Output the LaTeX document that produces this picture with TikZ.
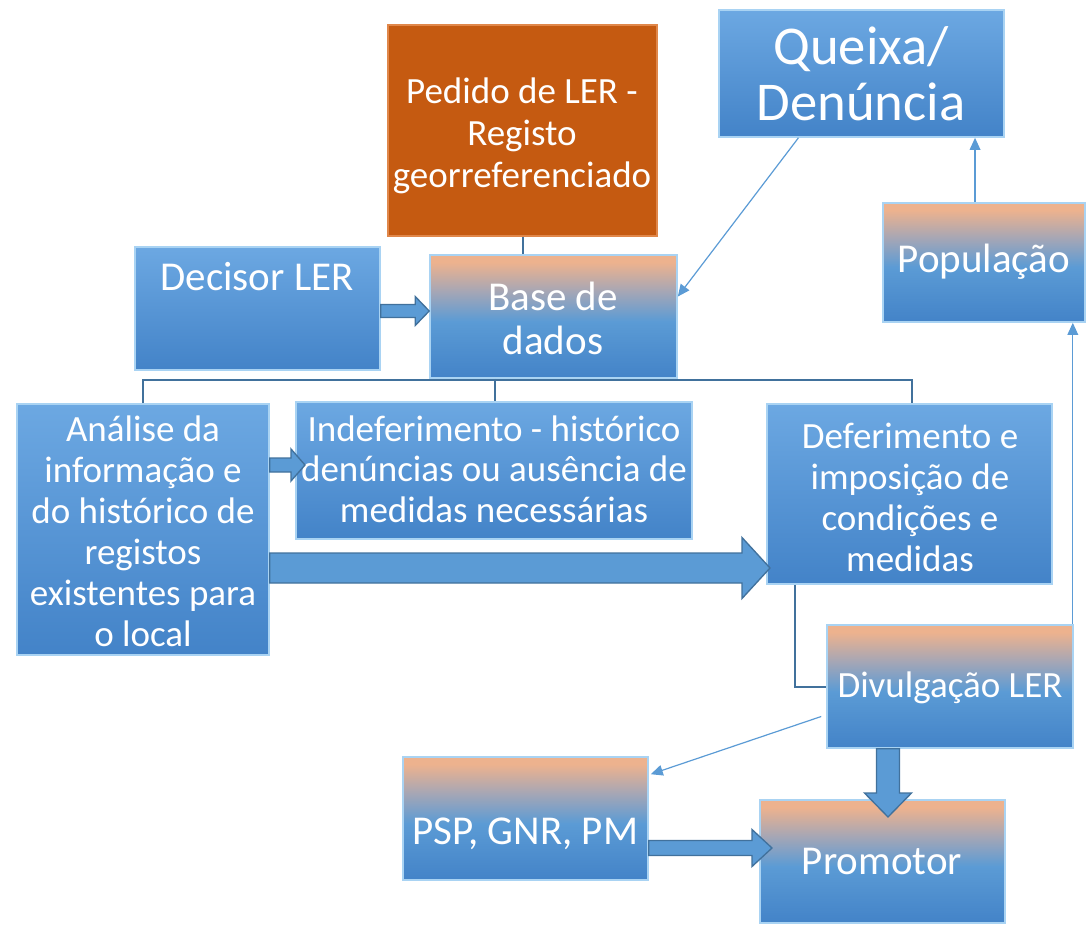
\documentclass[tikz,border=0pt]{standalone}
\usepackage{fontspec}
\setmainfont{Carlito}
\usetikzlibrary{calc,fit,arrows.meta}
\definecolor{bluetop}{HTML}{6CA8E2}
\definecolor{bluebot}{HTML}{4383C8}
\definecolor{bluemid}{HTML}{5B9BD5}
\definecolor{peach}{HTML}{EDB28E}
\definecolor{grayp}{HTML}{A4A6B6}
\definecolor{edgeblue}{HTML}{41719C}
\definecolor{orangefill}{HTML}{C55A11}
\definecolor{orangeedge}{HTML}{E0874A}
\definecolor{bevel}{HTML}{A9D3F3}
\pgfdeclareverticalshading{peachblue}{100bp}{color(0bp)=(bluebot); color(25bp)=(bluebot); color(48bp)=(bluemid); color(60bp)=(grayp); color(72bp)=(peach); color(100bp)=(peach)}
\newcommand\rarrow[5]{\draw[blockarr] ($(#1)+(0,#3)$) -- ($(#2)+(-#5,#3)$) -- ($(#2)+(-#5,#4)$) -- (#2) -- ($(#2)+(-#5,-#4)$) -- ($(#2)+(-#5,-#3)$) -- ($(#1)+(0,-#3)$) -- cycle;}
\newcommand\darrow[5]{\draw[blockarr] ($(#1)+(#3,0)$) -- ($(#2)+(#3,-#5)$) -- ($(#2)+(#4,-#5)$) -- (#2) -- ($(#2)+(-#4,-#5)$) -- ($(#2)+(-#3,-#5)$) -- ($(#1)+(-#3,0)$) -- cycle;}
\begin{document}
\begin{tikzpicture}[x=0.75pt,y=-0.75pt,
  bluebox/.style={rectangle, inner sep=0pt, top color=bluetop, bottom color=bluebot, draw=bevel, line width=1.2pt},
  peachbox/.style={rectangle, inner sep=0pt, shading=peachblue, draw=bevel, line width=1.2pt},
  orangebox/.style={rectangle, inner sep=0pt, fill=orangefill, draw=orangeedge, line width=1.2pt},
  fs/.style={font=\fontsize{27.75}{30.75}\selectfont},
  fm/.style={font=\fontsize{30.75}{33}\selectfont},
  fl/.style={font=\fontsize{41}{42}\selectfont},
  txt/.style={text=white, align=center, inner sep=0pt},
  thinarr/.style={draw=bluemid, line width=0.9pt, -{Triangle[length=9pt,width=8pt]}},
  elbow/.style={draw=edgeblue, line width=1.5pt},
  blockarr/.style={fill=bluemid, draw=edgeblue, line width=1pt, line join=miter}]
\useasboundingbox (0,0) rectangle (1086,925);

% boxes
\node[orangebox, fit={(388,25) (657,236)}] (ped) {};
\node[txt, font=\fontsize{27.75}{31.5}\selectfont] (pedt) at (522,136) {Pedido de LER -\\Registo\\georreferenciado};
\node[bluebox, fit={(719,10) (1004,137)}] (que) {};
\node[txt, fl] (quet) at (861,74) {Queixa/\\Den\'uncia};
\node[bluebox, fit={(135,247) (380,370)}] (dec) {};
\node[txt, fm] (dect) at (257,277) {Decisor LER};
\node[peachbox, fit={(430,255) (677,378)}] (base) {};
\node[txt, fm] (baset) at (553,318) {Base de\\dados};
\node[peachbox, fit={(883,203) (1085,322)}] (pop) {};
\node[txt, fm] (popt) at (984,262) {População};
\node[bluebox, fit={(17,404) (269,655)}] (ana) {};
\node[txt, fs] (anat) at (143,531) {Análise da\\informação e\\do histórico de\\registos\\existentes para\\o local};
\node[bluebox, fit={(296,402) (692,539)}] (ind) {};
\node[txt, font=\fontsize{27.75}{30.5}\selectfont] (indt) at (494,469) {Indeferimento - histórico\\denúncias ou ausência de\\medidas necessárias};
\node[bluebox, fit={(767,404) (1052,584)}] (def) {};
\node[txt, fs] (deft) at (910,497) {Deferimento e\\imposição de\\condições e\\medidas};
\node[peachbox, fit={(827,625) (1073,748)}] (div) {};
\node[txt, fs] (divt) at (950,688) {Divulgação LER};
\node[peachbox, fit={(403,757) (648,880)}] (psp) {};
\node[txt, fm] (pspt) at (525,834) {PSP, GNR, PM};
\node[peachbox, fit={(760,800) (1005,923)}] (pro) {};
\node[txt, fm] (prot) at (882,861) {Promotor};

% tree connectors
\draw[elbow] (ped.south) -- (ped.south |- base.north);
\coordinate (busL) at (143,380);
\coordinate (busM) at (495,380);
\coordinate (busR) at (912,380);
\draw[elbow] (ana.north -| busL) -- (busL) -- (busR) -- (def.north -| busR);
\draw[elbow] (base.south -| busM) -- (ind.north -| busM);
\coordinate (defdiv) at ($(def.south west)!0.1!(def.south east)$);
\draw[elbow] (defdiv) |- (div.west);

% thin arrows
\coordinate (qs) at ($(que.south west)!0.28!(que.south east)$);
\coordinate (be) at ($(base.north east)!0.34!(base.south east)$);
\draw[thinarr] (qs) -- (be);
\coordinate (ps) at ($(pop.north west)!0.456!(pop.north east)$);
\draw[thinarr] (ps) -- (ps |- que.south);
\coordinate (dn) at ($(div.north east)+(-1,0)$);
\draw[thinarr] (dn) -- (dn |- pop.south);
\coordinate (dw) at ($(div.west)+(-5,30)$);
\coordinate (pe) at ($(psp.north east)+(2,18)$);
\draw[thinarr] (dw) -- (pe);

% block arrows
\coordinate (a1s) at (dec.east |- 0,311);
\coordinate (a1e) at (base.west |- 0,311);
\rarrow{a1s}{a1e}{6.5}{14.5}{14}
\coordinate (a2s) at (ana.east |- 0,465);
\coordinate (a2e) at (305,465);
\rarrow{a2s}{a2e}{7}{16}{14}
\coordinate (a3s) at (ana.east |- 0,568);
\coordinate (a3e) at (770,568);
\rarrow{a3s}{a3e}{15}{30.5}{28}
\coordinate (a4s) at (div.south -| 888,0);
\coordinate (a4e) at (888,817);
\darrow{a4s}{a4e}{11.5}{23.5}{24}
\coordinate (a5s) at (psp.east |- 0,848);
\coordinate (a5e) at (772,848);
\rarrow{a5s}{a5e}{7.5}{18.5}{20}
\end{tikzpicture}
\end{document}
